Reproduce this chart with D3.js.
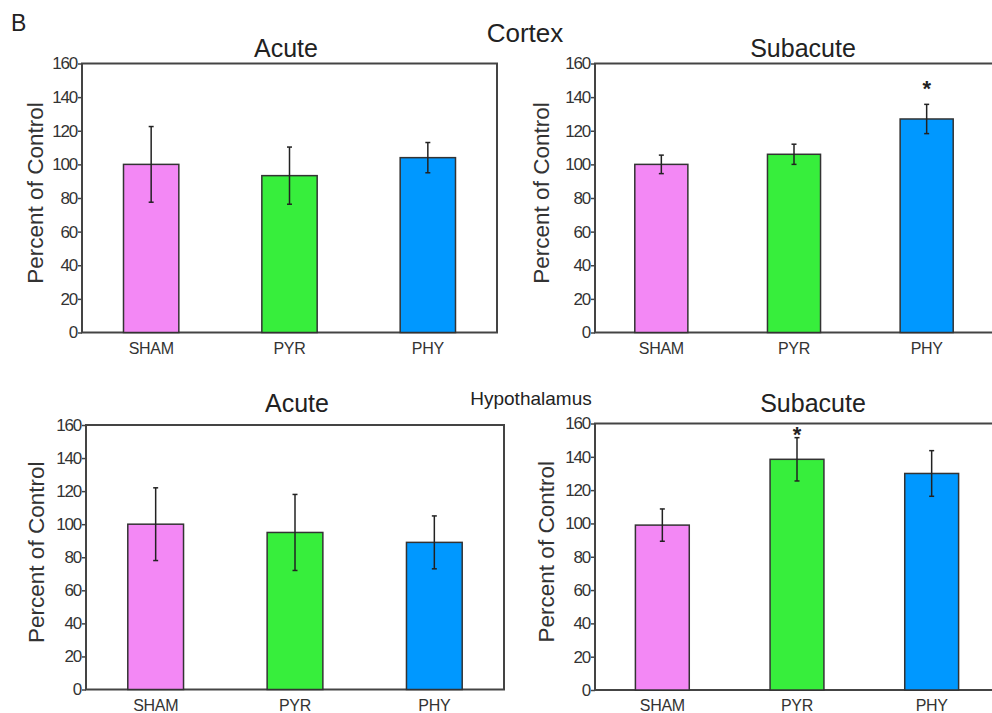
<!DOCTYPE html>
<html>
<head>
<meta charset="utf-8">
<script src="https://cdn.jsdelivr.net/npm/d3@7"></script>
<style>
  body { margin: 0; background: #fff; }
  svg { display: block; font-family: "Liberation Sans", Arial, sans-serif; }
</style>
</head>
<body>
<svg id="chart" width="992" height="713"></svg>
<script>
// datos
const groups = ["SHAM", "PYR", "PHY"];
const barColors = ["#f388f5", "#37ee3c", "#0098ff"];
const yTicks = [0, 20, 40, 60, 80, 100, 120, 140, 160];

const cortexAcute = [100, 93.3, 104];
const cortexAcuteErr = [22.5, 17, 9];
const cortexSubacute = [100, 106, 127];
const cortexSubacuteErr = [5.5, 6, 8.7];
const hypoAcute = [100, 95, 89];
const hypoAcuteErr = [22, 23, 16];
const hypoSubacute = [99, 138.5, 130];
const hypoSubacuteErr = [9.7, 13, 13.7];

const cortexSubacuteStar = [false, false, true];
const hypoSubacuteStar = [false, true, false];

const svg = d3.select("#chart");

// paneles: posicion de cada grafica
const panels = [
  { title: "Acute", vals: cortexAcute, errs: cortexAcuteErr, stars: null,
    x0: 82, x1: 497, y0: 63.5, y1: 332.5, tx: 286, ty: 57, lx: 43 },
  { title: "Subacute", vals: cortexSubacute, errs: cortexSubacuteErr, stars: cortexSubacuteStar,
    x0: 595, x1: 993, y0: 63.5, y1: 332.5, tx: 803, ty: 57, lx: 549 },
  { title: "Acute", vals: hypoAcute, errs: hypoAcuteErr, stars: null,
    x0: 86, x1: 504, y0: 425, y1: 689.5, tx: 297, ty: 412, lx: 44 },
  { title: "Subacute", vals: hypoSubacute, errs: hypoSubacuteErr, stars: hypoSubacuteStar,
    x0: 595, x1: 999, y0: 423.5, y1: 690, tx: 813, ty: 412, lx: 554 }
];

svg.append("text").attr("x", 11).attr("y", 31)
  .attr("font-size", 23).attr("fill", "#222").text("B");
svg.append("text").attr("x", 525).attr("y", 41.5).attr("text-anchor", "middle")
  .attr("font-size", 26).attr("fill", "#222").text("Cortex");
svg.append("text").attr("x", 531).attr("y", 405).attr("text-anchor", "middle")
  .attr("font-size", 19).attr("fill", "#222").text("Hypothalamus");

panels.forEach(p => {
  const x = d3.scaleBand().domain(groups).range([p.x0, p.x1])
    .paddingInner(0.6).paddingOuter(0.3);
  const y = d3.scaleLinear().domain([0, 160]).range([p.y1, p.y0]);

  const g = svg.append("g");

  // marco
  g.append("rect")
    .attr("x", p.x0).attr("y", p.y0)
    .attr("width", p.x1 - p.x0).attr("height", p.y1 - p.y0)
    .attr("fill", "none").attr("stroke", "#444").attr("stroke-width", 2);

  // barras
  g.selectAll("rect.bar").data(p.vals).join("rect")
    .attr("class", "bar")
    .attr("x", (d, i) => x(groups[i]))
    .attr("y", d => y(d))
    .attr("width", x.bandwidth())
    .attr("height", d => y(0) - y(d))
    .attr("fill", (d, i) => barColors[i])
    .attr("stroke", "#333").attr("stroke-width", 1.5);

  // barras de error
  const cx = i => x(groups[i]) + x.bandwidth() / 2;
  g.selectAll("line.err").data(p.vals).join("line")
    .attr("class", "err")
    .attr("x1", (d, i) => cx(i)).attr("x2", (d, i) => cx(i))
    .attr("y1", (d, i) => y(d + p.errs[i]))
    .attr("y2", (d, i) => y(d - p.errs[i]))
    .attr("stroke", "#222").attr("stroke-width", 1.5);
  [1, -1].forEach(s => {
    g.selectAll(null).data(p.vals).join("line")
      .attr("x1", (d, i) => cx(i) - 2.5).attr("x2", (d, i) => cx(i) + 2.5)
      .attr("y1", (d, i) => y(d + s * p.errs[i]))
      .attr("y2", (d, i) => y(d + s * p.errs[i]))
      .attr("stroke", "#222").attr("stroke-width", 1.5);
  });

  // asteriscos
  if (p.stars) {
    const idx = p.stars.map((s, i) => s ? i : -1).filter(i => i >= 0);
    g.selectAll("text.star").data(idx).join("text")
      .attr("class", "star")
      .attr("x", i => cx(i))
      .attr("y", i => Math.max(y(p.vals[i] + p.errs[i]) - 18, p.y0 + 8) + 10)
      .attr("text-anchor", "middle")
      .attr("font-size", 22).attr("font-weight", "bold").attr("fill", "#222")
      .text("*");
  }

  // eje y
  const yAxis = g.append("g")
    .attr("transform", `translate(${p.x0},0)`)
    .call(d3.axisLeft(y).tickValues(yTicks).tickSize(4).tickPadding(1));
  yAxis.select(".domain").remove();
  yAxis.selectAll(".tick line").attr("stroke", "#444").attr("stroke-width", 1.5);
  yAxis.selectAll(".tick text")
    .attr("font-size", 17).attr("letter-spacing", -1.2)
    .attr("font-family", "Liberation Sans, Arial, sans-serif")
    .attr("fill", "#333");

  // eje x
  const xAxis = g.append("g")
    .attr("transform", `translate(0,${p.y1})`)
    .call(d3.axisBottom(x).tickSize(0).tickPadding(10));
  xAxis.select(".domain").remove();
  xAxis.selectAll(".tick text")
    .attr("font-size", 16).attr("font-family", "Liberation Sans, Arial, sans-serif")
    .attr("fill", "#333").attr("letter-spacing", -0.3);

  // titulo
  g.append("text")
    .attr("x", p.tx)
    .attr("y", p.ty)
    .attr("text-anchor", "middle")
    .attr("font-size", 25).attr("fill", "#222")
    .text(p.title);

  // etiqueta eje y
  g.append("text")
    .attr("transform", `translate(${p.lx},${(p.y0 + p.y1) / 2 - 5}) rotate(-90)`)
    .attr("text-anchor", "middle")
    .attr("font-size", 22.5).attr("fill", "#333")
    .text("Percent of Control");
});
</script>
</body>
</html>
